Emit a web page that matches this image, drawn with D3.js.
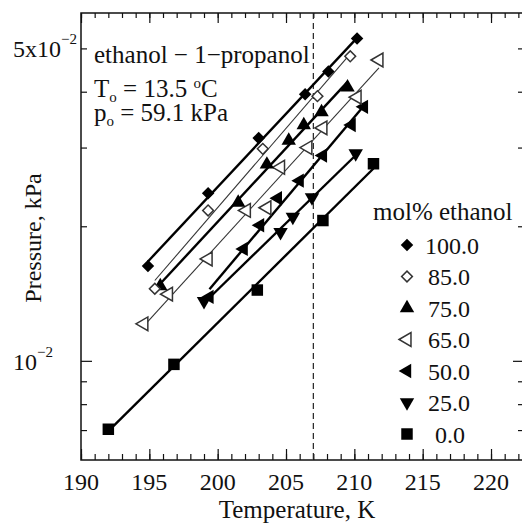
<!DOCTYPE html>
<html>
<head>
<meta charset="utf-8">
<script src="https://cdn.jsdelivr.net/npm/d3@7"></script>
<style>
body { margin: 0; background: #fff; }
svg text { font-family: "Liberation Serif", "DejaVu Serif", serif; fill: #111; }
</style>
</head>
<body>
<div id="chart"></div>
<script>
/**** DATA ****/

// temperature (K) and vapour pressure (kPa) per mixture, mol% ethanol
var T100 = [194.9, 199.3, 203.0, 206.4, 208.1, 210.2];
var P100 = [0.0163, 0.0237, 0.0315, 0.0395, 0.0444, 0.0526];
var T85 = [195.4, 199.3, 203.3, 207.3, 209.7];
var P85 = [0.0145, 0.0217, 0.0298, 0.0391, 0.0480];
var T75 = [195.8, 201.5, 203.6, 205.2, 206.3, 207.6, 209.5];
var P75 = [0.0147, 0.0226, 0.0275, 0.0311, 0.0337, 0.0360, 0.0409];
var T65 = [194.6, 196.4, 199.3, 202.1, 203.6, 204.6, 206.6, 207.7, 210.2, 211.8];
var P65 = [0.0121, 0.0141, 0.0169, 0.0217, 0.0220, 0.0271, 0.0300, 0.0332, 0.0389, 0.0471];
var T50 = [199.4, 201.9, 203.1, 204.4, 206.0, 207.7, 209.8, 210.7];
var P50 = [0.0139, 0.0178, 0.0201, 0.0231, 0.0253, 0.0288, 0.0337, 0.0370];
var T25 = [199.0, 204.6, 205.5, 206.9, 210.1];
var P25 = [0.0136, 0.0194, 0.0210, 0.0232, 0.0291];
var T0 = [192.0, 196.8, 202.9, 207.7, 211.4];
var P0 = [0.00703, 0.00982, 0.0144, 0.0206, 0.0276];

var legendLabels = ["100.0", "85.0", "75.0", "65.0", "50.0", "25.0", "0.0"];
var xMajorTicks = [190, 195, 200, 205, 210, 215, 220];
var yMajorTicks = [0.01];
var yMinorTicks = [0.007, 0.008, 0.009, 0.02, 0.03, 0.04, 0.05];
var refTemperature = 207;

var table = [
    {label: "100.0", t: T100, p: P100},
    {label: "85.0", t: T85, p: P85},
    {label: "75.0", t: T75, p: P75},
    {label: "65.0", t: T65, p: P65},
    {label: "50.0", t: T50, p: P50},
    {label: "25.0", t: T25, p: P25},
    {label: "0.0", t: T0, p: P0}
];

/**** STYLE ****/

// marker look for each series, keyed by legend label
var markerStyle = {
    "100.0": {type: d3.symbolSquare, size: 78, rotate: 45, open: false},
    "85.0": {type: d3.symbolSquare, size: 58, rotate: 45, open: true},
    "75.0": {type: d3.symbolTriangle, size: 90, rotate: 0, open: false},
    "65.0": {type: d3.symbolTriangle, size: 82, rotate: -90, open: true},
    "50.0": {type: d3.symbolTriangle, size: 90, rotate: -90, open: false},
    "25.0": {type: d3.symbolTriangle, size: 90, rotate: 180, open: false},
    "0.0": {type: d3.symbolSquare, size: 132, rotate: 0, open: false}
};
var lineWidth = {"100.0": 2.4, "85.0": 1.1, "75.0": 2.4, "65.0": 1.1, "50.0": 2.4, "25.0": 2.4, "0.0": 2.4};

var width = 522, height = 526;
var plot = {left: 81, right: 523, top: 13, bottom: 460};

var svg = d3.select("#chart").append("svg")
    .attr("width", width)
    .attr("height", height);

var x = d3.scaleLinear().domain([190, 222.34]).range([plot.left, plot.right]);
var y = d3.scaleLog().domain([0.006, 0.06]).range([plot.bottom, plot.top]);

/**** AXES ****/

function tickAxis(axis, pos, size, values) {
    var g = svg.append("g")
        .attr("transform", pos)
        .call(axis.tickValues(values).tickSize(size).tickSizeOuter(0).tickFormat(""));
    g.select(".domain").remove();
    g.selectAll(".tick line").attr("stroke", "#111").attr("stroke-width", 1.2);
    return g;
}

var xMinor = d3.range(190, 223);
tickAxis(d3.axisBottom(x), "translate(0," + plot.bottom + ")", -6, xMinor);
tickAxis(d3.axisBottom(x), "translate(0," + plot.bottom + ")", -11, xMajorTicks);
tickAxis(d3.axisTop(x), "translate(0," + plot.top + ")", -5, xMinor);
tickAxis(d3.axisTop(x), "translate(0," + plot.top + ")", -10, xMajorTicks);
tickAxis(d3.axisLeft(y), "translate(" + plot.left + ",0)", -6, yMinorTicks);
tickAxis(d3.axisLeft(y), "translate(" + plot.left + ",0)", -11, yMajorTicks);
tickAxis(d3.axisRight(y), "translate(" + plot.right + ",0)", -5, yMinorTicks);
tickAxis(d3.axisRight(y), "translate(" + plot.right + ",0)", -10, yMajorTicks);

// x tick labels
svg.append("g").selectAll("text")
    .data(xMajorTicks)
    .enter().append("text")
    .attr("x", function(d) { return x(d); })
    .attr("y", 490)
    .attr("text-anchor", "middle")
    .attr("font-size", 24)
    .text(function(d) { return d; });

// y tick labels with superscript exponents
function powerLabel(value, mantissa) {
    var t = svg.append("text")
        .attr("x", 13)
        .attr("y", y(value) + 9)
        .attr("font-size", 24);
    t.append("tspan").text(mantissa + "10");
    t.append("tspan").attr("dy", -13).attr("font-size", 15).text("\u22122");
}
powerLabel(0.05, "5x");
powerLabel(0.01, "");

svg.append("rect")
    .attr("x", plot.left)
    .attr("y", plot.top)
    .attr("width", plot.right - plot.left)
    .attr("height", plot.bottom - plot.top)
    .attr("fill", "none")
    .attr("stroke", "#111")
    .attr("stroke-width", 1.5);

svg.append("text")
    .attr("x", 297)
    .attr("y", 518)
    .attr("text-anchor", "middle")
    .attr("font-size", 25)
    .text("Temperature, K");

svg.append("text")
    .attr("transform", "translate(41,238) rotate(-90)")
    .attr("text-anchor", "middle")
    .attr("font-size", 24)
    .text("Pressure, kPa");

// reference temperature
svg.append("line")
    .attr("x1", x(refTemperature))
    .attr("x2", x(refTemperature))
    .attr("y1", plot.top)
    .attr("y2", plot.bottom)
    .attr("stroke", "#222")
    .attr("stroke-width", 1.2)
    .attr("stroke-dasharray", "6,4");

/**** SERIES ****/

// least squares fit of log10(p) against T, drawn over the measured range
function fitLine(ts, ps) {
    var n = ts.length;
    var ly = ps.map(function(p) { return Math.log10(p); });
    var mx = d3.mean(ts), my = d3.mean(ly);
    var sxy = 0, sxx = 0;
    for (var i = 0; i < n; i++) {
        sxy += (ts[i] - mx) * (ly[i] - my);
        sxx += (ts[i] - mx) * (ts[i] - mx);
    }
    var b = sxy / sxx;
    var ends = d3.extent(ts);
    return ends.map(function(t) {
        return [t, Math.pow(10, my + b * (t - mx))];
    });
}

var line = d3.line()
    .x(function(d) { return x(d[0]); })
    .y(function(d) { return y(d[1]); });

function marker(sel, style) {
    sel.attr("d", d3.symbol().type(style.type).size(style.size)())
        .attr("fill", style.open ? "#fff" : "#000")
        .attr("stroke", style.open ? "#333" : "none")
        .attr("stroke-width", style.open ? 1.5 : 0);
}

var seriesGroup = svg.append("g");

table.forEach(function(s) {
    seriesGroup.append("path")
        .attr("d", line(fitLine(s.t, s.p)))
        .attr("fill", "none")
        .attr("stroke", lineWidth[s.label] > 2 ? "#000" : "#333")
        .attr("stroke-width", lineWidth[s.label]);
});

table.slice().reverse().forEach(function(s) {
    var style = markerStyle[s.label];
    seriesGroup.append("g").selectAll("path")
        .data(d3.zip(s.t, s.p))
        .enter().append("path")
        .attr("transform", function(d) {
            return "translate(" + x(d[0]) + "," + y(d[1]) + ") rotate(" + style.rotate + ")";
        })
        .call(marker, style);
});

/**** ANNOTATION ****/

svg.append("text")
    .attr("x", 94)
    .attr("y", 63)
    .attr("font-size", 25)
    .text("ethanol \u2212 1\u2212propanol");

var tLine = svg.append("text").attr("x", 94).attr("y", 97).attr("font-size", 25);
tLine.append("tspan").text("T");
tLine.append("tspan").attr("dy", 5).attr("font-size", 15).text("o");
tLine.append("tspan").attr("dy", -5).text(" = 13.5 ");
tLine.append("tspan").attr("dy", -9).attr("font-size", 15).text("o");
tLine.append("tspan").attr("dy", 9).text("C");

var pLine = svg.append("text").attr("x", 94).attr("y", 121).attr("font-size", 25);
pLine.append("tspan").text("p");
pLine.append("tspan").attr("dy", 5).attr("font-size", 15).text("o");
pLine.append("tspan").attr("dy", -5).text(" = 59.1 kPa");

/**** LEGEND ****/

svg.append("text")
    .attr("x", 373)
    .attr("y", 220)
    .attr("font-size", 25)
    .text("mol% ethanol");

var legend = svg.append("g").selectAll("g")
    .data(legendLabels)
    .enter().append("g")
    .attr("transform", function(d, i) { return "translate(407," + (245 + i * 31.5) + ")"; });

legend.append("path")
    .each(function(d) {
        var style = markerStyle[d];
        d3.select(this)
            .attr("transform", "rotate(" + style.rotate + ")")
            .call(marker, style);
    });

legend.append("text")
    .attr("x", function(d) { return d === "0.0" ? 28 : (d === "100.0" ? 18 : 21); })
    .attr("y", 8.5)
    .attr("font-size", 24)
    .text(function(d) { return d; });
</script>
</body>
</html>
